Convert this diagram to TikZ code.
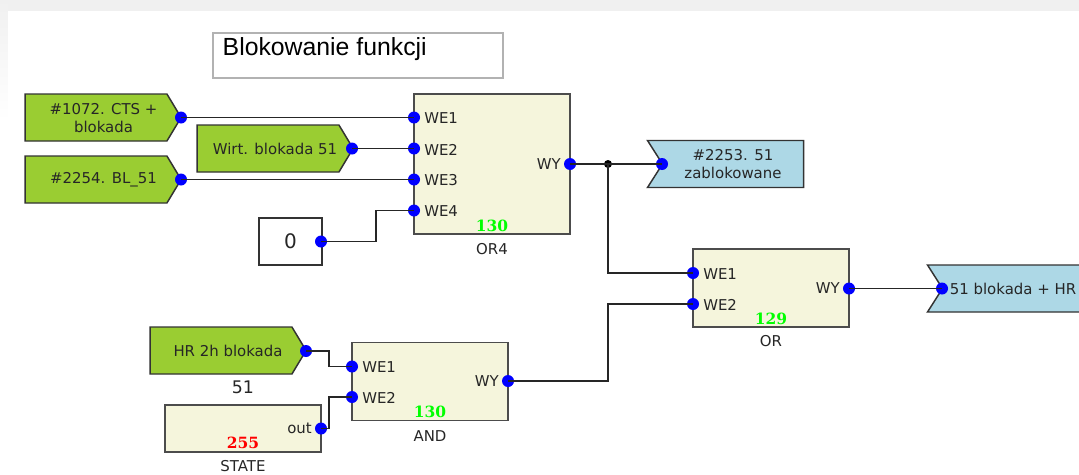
\documentclass[tikz,border=0pt]{standalone}
\usepackage{fontspec}
\setmainfont{DejaVu Sans}
\newfontfamily\titlefont{Liberation Sans}
\newfontfamily\numfont{DejaVu Serif}
\usetikzlibrary{shapes.symbols}
\definecolor{tagin}{HTML}{9ACD32}
\definecolor{tagout}{HTML}{ADD8E6}
\definecolor{blockfill}{HTML}{F5F5DC}
\definecolor{framegray}{HTML}{F0F0F0}
\begin{document}
\begin{tikzpicture}[x=0.75pt,y=-0.75pt,text=black!85,font=\fontsize{11.2}{13.5}\selectfont]
		\tikzstyle{inputtag} = [signal, signal to=east, signal from=nowhere, signal pointer angle=118, draw=black!80, line width=1.1pt, fill=tagin, minimum width=117pt, minimum height=35.25pt, inner sep=0pt]
		\tikzstyle{outputtag} = [signal, signal to=nowhere, signal from=west, signal pointer angle=115, draw=black!80, line width=1.1pt, fill=tagout, minimum width=117pt, minimum height=35.25pt, inner sep=0pt, align=center]
		\tikzstyle{block} = [rectangle, draw=black!70, line width=1.1pt, fill=blockfill, minimum width=117pt, inner sep=0pt]
		\tikzstyle{pin} = [circle, fill=blue, minimum size=9pt, inner sep=0pt]
		\tikzstyle{dot} = [circle, fill=black, minimum size=6pt, inner sep=0pt]
		\tikzstyle{wire} = [draw=black!85, line width=1.2pt]
		\tikzstyle{count} = [font=\numfont\bfseries\fontsize{11.6}{13}\selectfont]

		\useasboundingbox (0,0) rectangle (1079,475);
		\clip (0,0) rectangle (1079,475);

		% Page behind the sheet
		\fill[framegray] (0,0) rectangle (1079,475);
		\shade[top color=framegray, bottom color=white] (0,0) rectangle (8,120);
		\fill[white] (0,120) rectangle (8,475);
		\fill[white] (8,11) rectangle (1079,475);

		% Title
		\node[draw=black!30, line width=1pt, minimum width=217.5pt, minimum height=33.75pt] (title) at (358,55.5) {};
		\node[anchor=west, text=black, font=\titlefont\fontsize{18.6}{20}\selectfont] (titletext) at (218,49) {Blokowanie funkcji};

		% Input tags
		\node[inputtag] (T1072) at (96,117.5) {};
		\node[inputtag] (TWirt) at (268,148.5) {};
		\node[inputtag] (T2254) at (96,179.5) {};
		\node[inputtag] (THR) at (221,350.5) {};
		\node[align=center] (L1072) at (103.5,118) {\#1072. CTS +\\blokada};
		\node (LWirt) at (275,149) {Wirt. blokada 51};
		\node (L2254) at (103.5,180) {\#2254. BL\_51};
		\node (LHR) at (228,351) {HR 2h blokada};
		\node (T51) at (243,387) {\fontsize{13}{15}\selectfont 51};
		\node[draw=black!80, line width=1.1pt, fill=white, minimum width=47pt, minimum height=35.25pt, inner sep=0pt] (Zero) at (290.5,241.5) {\fontsize{15}{18}\selectfont 0};

		% Blocks
		\node[block, minimum height=105pt] (OR4) at (492,164) {};
		\node[block, minimum height=58.5pt] (OR2) at (771,288) {};
		\node[block, minimum height=58.5pt] (AND) at (430,381.5) {};
		\node[block, minimum height=35.25pt] (STATE) at (243,428.5) {};

		% Block numbers and names
		\node[count, text=green] (N130a) at (492,226) {130};
		\node[count, text=green] (N129) at (771,319) {129};
		\node[count, text=green] (N130b) at (430,412) {130};
		\node[count, text=red] (N255) at (243,443) {255};
		\node (LOR4) at (492,249) {OR4};
		\node (LOR) at (771,341) {OR};
		\node (LAND) at (430,436) {AND};
		\node (LSTATE) at (243,466) {STATE};

		% Output tags
		\node[outputtag] (T2253) at (733,164) {\#2253. 51\\zablokowane};
		\node[outputtag] (THRout) at (1013,288.5) {51 blokada + HR};

		% Pins
		\foreach \name/\x/\y in {P1072/181/117.5, PWirt/352/148.5, P2254/181/179.5, PZero/321/241.5, PHR/306/351,
			A1/414/117.5, A2/414/148.5, A3/414/179.5, A4/414/210.5, AY/570/164,
			B1/693/273, B2/693/304, BY/849/288.5,
			C1/352/366.5, C2/352/397, CY/508/381, SO/321/428.5,
			P2253/662/164, PHRout/942/288.5}
			\node[pin] (\name) at (\x,\y) {};
		\node[dot] (J1) at (608,164) {};

		% Pin labels
		\foreach \pinname/\pintext in {A1/WE1, A2/WE2, A3/WE3, A4/WE4, B1/WE1, B2/WE2, C1/WE1, C2/WE2}
			\node[anchor=west, inner sep=0pt] at ([xshift=7.5pt,yshift=-0.75pt]\pinname.center) {\pintext};
		\foreach \pinname/\pintext in {AY/WY, BY/WY, CY/WY, SO/out}
			\node[anchor=east, inner sep=0pt] at ([xshift=-6.75pt]\pinname.center) {\pintext};

		% Wires
		\draw[wire] (P1072.center) -- (A1.center);
		\draw[wire] (PWirt.center) -- (A2.center);
		\draw[wire] (P2254.center) -- (A3.center);
		\draw[wire] (PZero.center) -- (376,241.5) -- (376,210.5) -- (A4.center);
		\draw[wire] (AY.center) -- (P2253.center);
		\draw[wire] (J1.center) |- (B1.center);
		\draw[wire] (BY.center) -- (PHRout.center);
		\draw[wire] (CY.center) -- (608,381) -- (608,304) -- (B2.center);
		\draw[wire] (PHR.center) -- (329,351) -- (329,366.5) -- (C1.center);
		\draw[wire] (SO.center) -- (329,428.5) -- (329,397) -- (C2.center);
		
		\end{tikzpicture}
\end{document}
